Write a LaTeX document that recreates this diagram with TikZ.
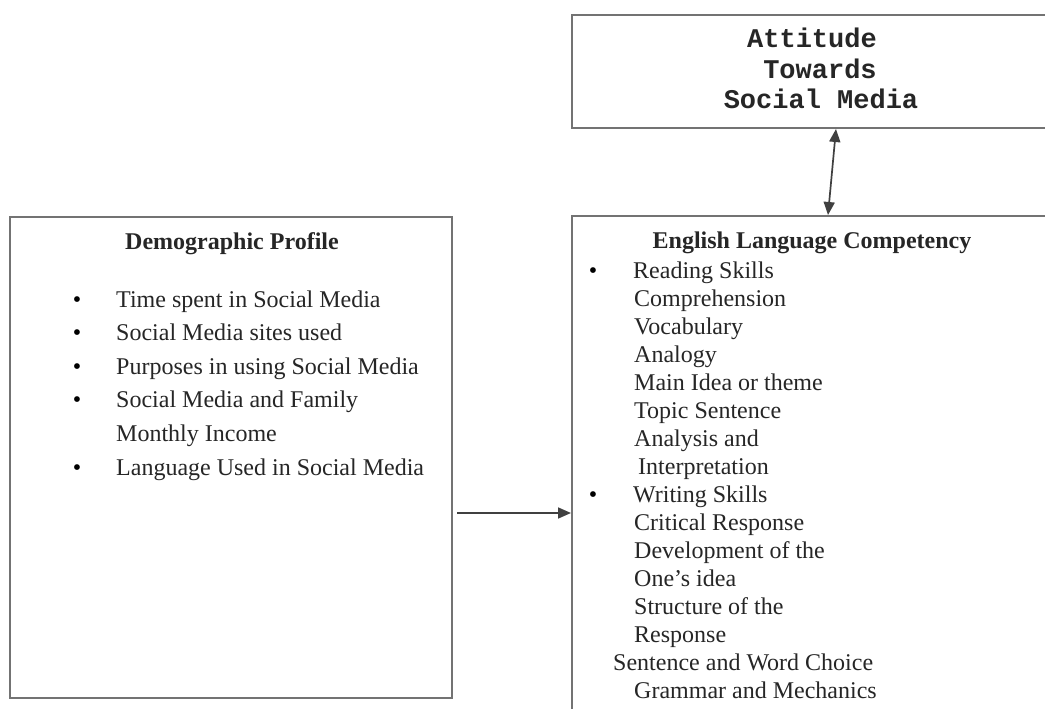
\documentclass[tikz,border=0pt]{standalone}
\usepackage{fontspec}
\setmainfont{Liberation Serif}
\newfontfamily\courfont{Liberation Mono}
\usetikzlibrary{arrows.meta}
\begin{document}
\begin{tikzpicture}[x=1pt,y=-1pt,
  boxnode/.style={draw=black!55, line width=2pt, rectangle, inner sep=0pt, minimum width=#1},
  txt/.style={inner sep=0pt, anchor=base west, font=\fontsize{24}{28}\selectfont, text=black!85},
  ttl/.style={inner sep=0pt, anchor=base, font=\fontsize{24}{28}\selectfont\bfseries, text=black!85},
  bul/.style={inner sep=0pt, anchor=base, font=\fontsize{24}{28}\selectfont, text=black},
  mono/.style={inner sep=0pt, anchor=base, font=\courfont\bfseries\fontsize{27}{30}\selectfont, text=black!85},
  conn/.style={draw=black!75, line width=1.7pt, -{Triangle[length=13pt,width=11pt]}},
  dconn/.style={draw=black!75, line width=1.7pt, {Triangle[length=13pt,width=11pt]}-{Triangle[length=13pt,width=11pt]}}
]
\useasboundingbox (0,0) rectangle (1045,709);
\clip (0,0) rectangle (1045,709);
\fill[white] (0,0) rectangle (1045,709);

% boxes
\node[boxnode=442pt, minimum height=481pt] (demo) at (231,457.5) {};
\node[boxnode=528pt, minimum height=113pt] (topbox) at (836,71.5) {};
\node[boxnode=528pt, minimum height=544pt] (elc) at (836,488) {};

% top box text
\node[mono] (a1) at (812,48) {Attitude};
\node[mono] (a2) at (820,79) {Towards};
\node[mono] (a3) at (821,109) {Social Media};

% demographic profile
\node[ttl] (dh) at (232,249) {Demographic Profile};
\foreach \y/\t [count=\i] in {307/Time spent in Social Media,
    340.6/Social Media sites used,
    374.2/Purposes in using Social Media,
    407.8/Social Media and Family,
    475/Language Used in Social Media}{
  \node[bul] (db\i) at (77,\y) {•};
  \node[txt] (dt\i) at (116,\y) {\t};
}
\node[txt] (dt6) at (116,441.4) {Monthly Income};

% English language competency
\node[ttl] (eh) at (812,248) {English Language Competency};
\node[bul] (eb1) at (593,278) {•};
\node[bul] (eb2) at (593,502) {•};
\node[txt] (e0) at (633,278) {Reading Skills};
\node[txt] (e1) at (634,306) {Comprehension};
\node[txt] (e2) at (634,334) {Vocabulary};
\node[txt] (e3) at (634,362) {Analogy};
\node[txt] (e4) at (634,390) {Main Idea or theme};
\node[txt] (e5) at (634,418) {Topic Sentence};
\node[txt] (e6) at (634,446) {Analysis and};
\node[txt] (e7) at (638,474) {Interpretation};
\node[txt] (e8) at (633,502) {Writing Skills};
\node[txt] (e9) at (634,530) {Critical Response};
\node[txt] (e10) at (634,558) {Development of the};
\node[txt] (e11) at (634,586) {One’s idea};
\node[txt] (e12) at (634,614) {Structure of the};
\node[txt] (e13) at (634,642) {Response};
\node[txt] (e14) at (613,670) {Sentence and Word Choice};
\node[txt] (e15) at (634,698) {Grammar and Mechanics};

% connectors
\draw[conn] ([xshift=4pt,yshift=-297pt]demo.north east) -- ([yshift=-298pt]elc.north west);
\draw[dconn] ([xshift=265pt]topbox.south west) -- ([xshift=257pt]elc.north west);
\end{tikzpicture}
\end{document}
